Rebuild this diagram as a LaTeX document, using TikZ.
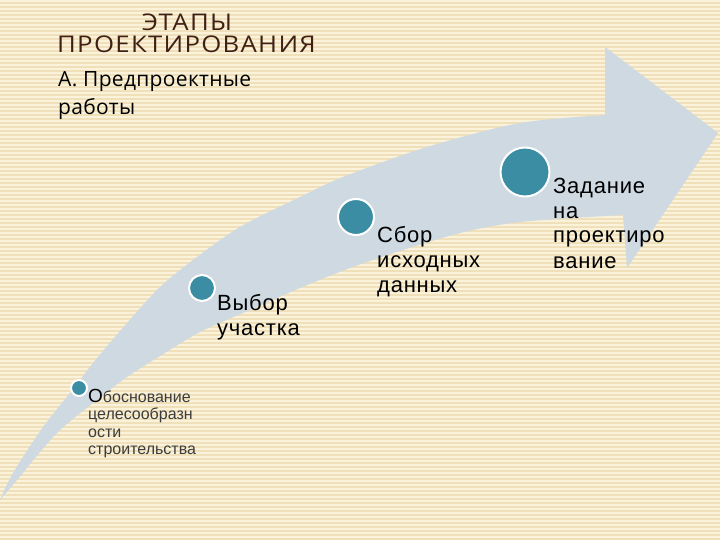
\documentclass[tikz,border=0pt]{standalone}
\usepackage{fontspec}
\setmainfont{Liberation Sans}[LetterSpace=3.5]
\newfontfamily\titlefont{Open Sans}[LetterSpace=5]
\newfontfamily\subfont{Open Sans}[LetterSpace=1.5]
\newfontfamily\smallfont{Liberation Sans}
\definecolor{bgbase}{RGB}{239,224,186}
\definecolor{bgline}{RGB}{250,242,218}
\definecolor{arrowfill}{RGB}{207,217,225}
\definecolor{teal}{RGB}{58,141,163}
\definecolor{titlebrown}{RGB}{64,32,20}
\definecolor{smallgray}{RGB}{60,60,60}
\tikzset{
  stripe/.style={draw=bgline, line width=1.6pt},
  dot/.style={circle, fill=teal, draw=white, line width=2pt, inner sep=0pt},
  titletext/.style={inner sep=0pt, text=titlebrown, font=\titlefont\fontsize{23}{26}\selectfont},
  lbl/.style={anchor=base west, align=left, inner sep=0pt, font=\fontsize{22}{25}\selectfont},
  smalllbl/.style={anchor=base west, align=left, inner sep=0pt, text=smallgray, font=\smallfont\fontsize{16}{17.5}\selectfont},
}
\begin{document}
\begin{tikzpicture}[x=1pt,y=-1pt]
\useasboundingbox (0,0) rectangle (720,540);
\fill[bgbase] (0,0) rectangle (720,540);
\foreach \yy in {1,5,...,540} \draw[stripe] (0,\yy) -- (720,\yy);
% curved arrow
\fill[arrowfill]
  plot[smooth] coordinates {(0,500) (17,480) (57,433) (97,400) (127,377) (160,356) (200,332) (250,310) (300,288) (350,268) (400,251) (460,233) (520,222) (623,215)}
  -- (627,268) -- (718,133) -- (605,47)
  -- plot[smooth] coordinates {(605,115) (520,123) (427,147) (343,177) (300,197) (240,227) (193,260) (160,287) (127,323) (93,363) (70,393) (43,427) (13,473) (0,500)}
  -- cycle;
% title
\node[titletext, anchor=base] (t1) at (187,31) {\scalebox{1.12}[1]{ЭТАПЫ}};
\node[titletext, anchor=base west] (t2) at (57,53) {\scalebox{1.12}[1]{ПРОЕКТИРОВАНИЯ}};
\node[anchor=base west, align=left, inner sep=0pt, font=\subfont\fontsize{21}{28}\selectfont] (sub) at (58,115) {А. Предпроектные\\работы};
% dots
\node[dot, minimum size=16pt] (c1) at (79,388) {};
\node[dot, minimum size=26pt] (c2) at (202,288) {};
\node[dot, minimum size=36pt] (c3) at (356,217) {};
\node[dot, minimum size=49pt] (c4) at (525,172) {};
% labels (anchor = baseline of the last line)
\node[smalllbl] (l1) at (88,454.5) {{\color{black}\fontsize{19}{17.5}\selectfont О}боснование\\целесообразн\\ости\\строительства};
\node[lbl] (l2) at (217,335) {Выбор\\участка};
\node[lbl] (l3) at (377,292) {Сбор\\исходных\\данных};
\node[lbl] (l4) at (553,268) {Задание\\на\\проектиро\\вание};
\end{tikzpicture}
\end{document}
